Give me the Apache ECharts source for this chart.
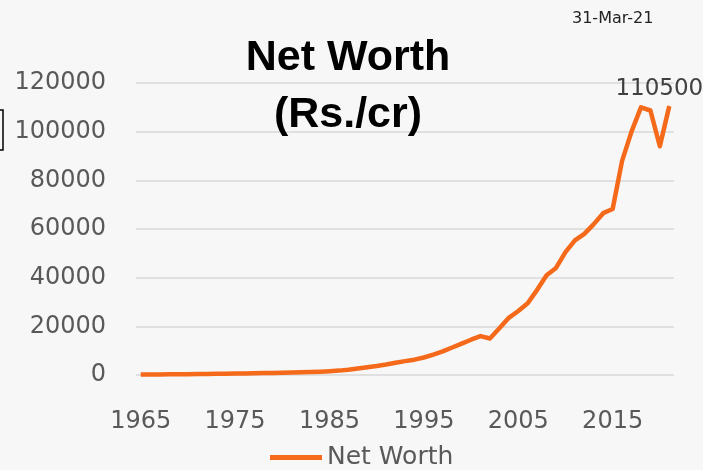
<!DOCTYPE html>
<html>
<head>
<meta charset="utf-8">
<title>Net Worth</title>
<script src="https://cdn.jsdelivr.net/npm/echarts@6/dist/echarts.min.js"></script>
<style>
  html, body { margin: 0; padding: 0; background: #f7f7f7; }
  #chart { width: 703px; height: 470px; }
</style>
</head>
<body>
<div id="chart"></div>
<script>
// years on the x axis
const years = []
for (let y = 1965; y <= 2021; y++) {
  years.push(String(y))
}

// net worth, Rs. crore
const netWorth = [
  200, 220, 240, 270, 300, 340, 380, 420, 470, 520,
  580, 640, 700, 780, 860, 950, 1050, 1150, 1250, 1380,
  1550, 1800, 2200, 2700, 3200, 3700, 4300, 5000, 5700, 6300,
  7200, 8400, 9700, 11300, 12900, 14500, 16000, 15000, 19200, 23500,
  26300, 29500, 35000, 41000, 44000, 50500, 55300, 58000, 62000, 66500,
  68200, 88000, 100000, 110000, 108700, 94000, 110500
]

const yTicks = [0, 20000, 40000, 60000, 80000, 100000, 120000]
const seriesName = 'Net Worth'
const dateText = '31-Mar-21'

const lineColor = '#f5691a'
const labelColor = '#595959'

const chart = echarts.init(document.getElementById('chart'))

chart.setOption({
  backgroundColor: '#f7f7f7',
  animation: false,
  title: {
    text: 'Net Worth\n(Rs./cr)',
    left: 348,
    top: 30,
    padding: 0,
    textAlign: 'center',
    textStyle: {
      fontFamily: 'Liberation Sans',
      fontWeight: 'bold',
      fontSize: 43,
      lineHeight: 57,
      color: '#000'
    }
  },
  graphic: [
    {
      type: 'text',
      left: 572,
      top: 11,
      style: {
        text: dateText,
        font: '16px "DejaVu Sans"',
        fill: '#222'
      }
    },
    {
      // partial box cut by the left edge
      type: 'rect',
      shape: { x: -10, y: 110, width: 13, height: 40 },
      style: { fill: 'none', stroke: '#000', lineWidth: 1.5 }
    }
  ],
  grid: {
    left: 136,
    right: 29,
    top: 83,
    bottom: 95
  },
  legend: {
    data: [{ name: seriesName, icon: 'rect' }],
    left: 270,
    top: 445,
    padding: 0,
    itemWidth: 52,
    itemHeight: 5,
    itemGap: 5,
    itemStyle: { color: lineColor },
    textStyle: {
      fontFamily: 'DejaVu Sans',
      fontSize: 25,
      color: labelColor
    }
  },
  xAxis: {
    type: 'category',
    data: years,
    boundaryGap: true,
    axisLine: { show: false },
    axisTick: { show: false },
    axisLabel: {
      interval: 9,
      margin: 35,
      fontFamily: 'DejaVu Sans',
      fontSize: 24,
      color: labelColor
    }
  },
  yAxis: {
    type: 'value',
    min: yTicks[0],
    max: yTicks[yTicks.length - 1],
    interval: 20000,
    axisLine: { show: false },
    axisTick: { show: false },
    axisLabel: {
      margin: 30,
      formatter: v => String(v),
      fontFamily: 'DejaVu Sans',
      fontSize: 24,
      color: labelColor
    },
    splitLine: {
      lineStyle: { color: '#d9d9d9', width: 1.5 }
    }
  },
  series: [
    {
      name: seriesName,
      type: 'line',
      data: netWorth.map((v, i) => {
        // only the last point carries a label
        if (i === netWorth.length - 1) {
          return {
            value: v,
            symbol: 'circle',
            symbolSize: 1,
            label: {
              show: true,
              position: 'top',
              distance: 5,
              offset: [-10, 0],
              formatter: p => String(p.value),
              fontFamily: 'DejaVu Sans',
              fontSize: 23,
              color: '#404040'
            }
          }
        }
        return v
      }),
      symbol: 'none',
      smooth: false,
      lineStyle: {
        color: lineColor,
        width: 4.5,
        join: 'round'
      },
      itemStyle: { color: lineColor }
    }
  ]
})
</script>
</body>
</html>
